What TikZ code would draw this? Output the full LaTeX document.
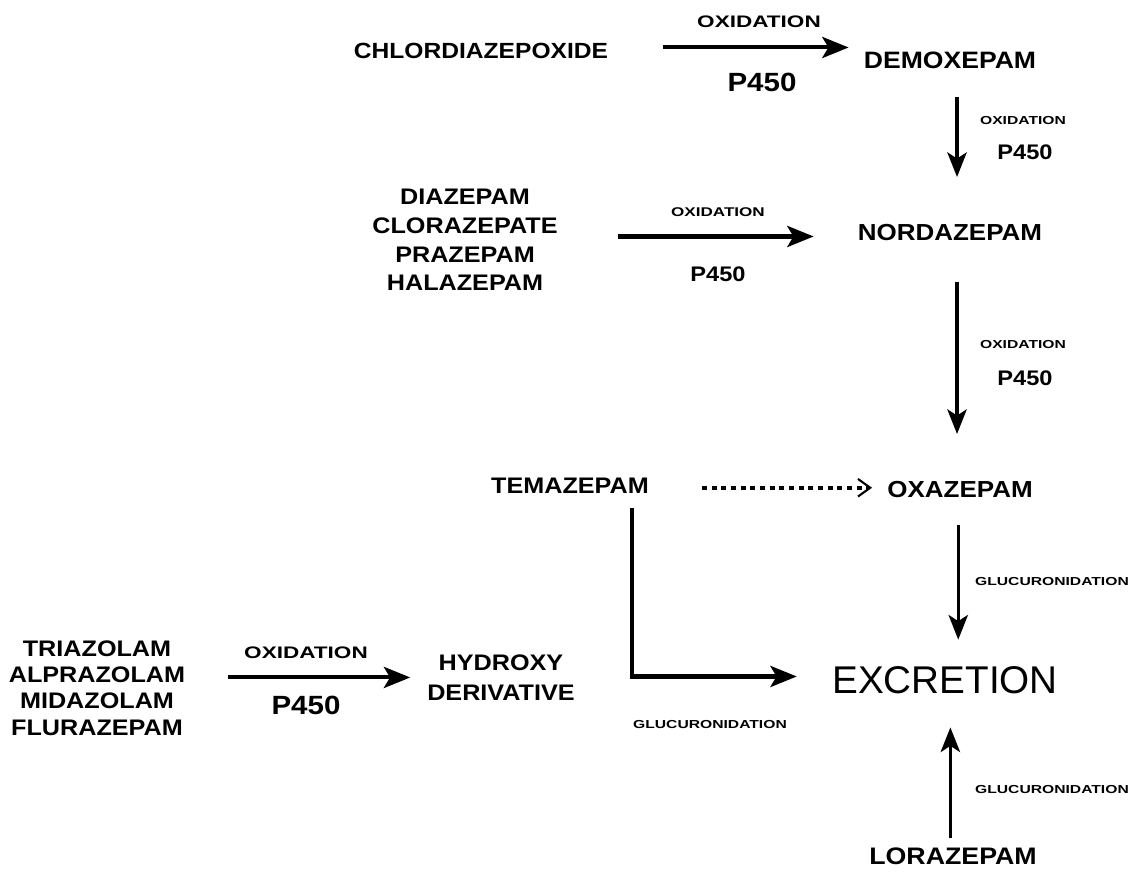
\documentclass[tikz,border=0pt]{standalone}
\usepackage{fontspec}
\setmainfont{Liberation Sans}
\newfontfamily\drugfont[FakeStretch=1.12]{Liberation Sans}
\newfontfamily\wideface[FakeStretch=1.35]{Liberation Sans}
\usetikzlibrary{arrows.meta}

\begin{document}
\begin{tikzpicture}[x=0.02cm, y=-0.02cm,
    drug/.style={inner sep=0pt, align=center, font=\drugfont\bfseries\fontsize{12.8}{15}\selectfont},
    bigtag/.style={inner sep=0pt, font=\wideface\bfseries\fontsize{9.5}{11}\selectfont},
    smalltag/.style={inner sep=0pt, font=\wideface\bfseries\fontsize{6.6}{8}\selectfont},
    bigp/.style={inner sep=0pt, font=\drugfont\bfseries\fontsize{15}{17}\selectfont},
    smallp/.style={inner sep=0pt, font=\drugfont\bfseries\fontsize{12}{14}\selectfont},
    rxn/.style={line width=2.3pt, -{Stealth[length=15pt, width=12pt, inset=3.5pt]}},
    down/.style={line width=1.9pt, -{Stealth[length=14pt, width=11pt, inset=3.5pt]}}]
    \useasboundingbox (0,0) rectangle (1130,874);

    % compounds
    \node[drug, font=\drugfont\bfseries\fontsize{12.5}{15}\selectfont] (chlordiazepoxide) at (481,51) {CHLORDIAZEPOXIDE};
    \node[drug, font=\drugfont\bfseries\fontsize{13.5}{15}\selectfont] (demoxepam) at (950,60) {DEMOXEPAM};
    \node[drug, font=\drugfont\bfseries\fontsize{13.2}{15}\selectfont] (nordazepam) at (950,233) {NORDAZEPAM};
    \node[drug, font=\drugfont\bfseries\fontsize{12.8}{16.4}\selectfont] (diazepams) at (465,240)
        {DIAZEPAM\\CLORAZEPATE\\PRAZEPAM\\HALAZEPAM};
    \node[drug] (temazepam) at (570,486) {TEMAZEPAM};
    \node[drug, font=\drugfont\bfseries\fontsize{13.2}{15}\selectfont] (oxazepam) at (960,490) {OXAZEPAM};
    \node[drug, font=\fontsize{22}{24}\selectfont] (excretion) at (945,680) {EXCRETION};
    \node[drug, font=\drugfont\bfseries\fontsize{13.6}{15}\selectfont] (lorazepam) at (953,856) {LORAZEPAM};
    \node[drug, font=\drugfont\bfseries\fontsize{12.8}{15}\selectfont] (triazolams) at (97,688)
        {TRIAZOLAM\\ALPRAZOLAM\\MIDAZOLAM\\FLURAZEPAM};
    \node[drug, font=\drugfont\bfseries\fontsize{12.8}{17}\selectfont] (hydroxy) at (501,678)
        {HYDROXY\\DERIVATIVE};

    % enzymes and reactions
    \node[bigtag] (ox1) at (759,22) {OXIDATION};
    \node[bigp] (p1) at (762,82) {P450};
    \node[smalltag] (ox2) at (1023,121) {OXIDATION};
    \node[smallp] (p2) at (1025,152) {P450};
    \node[smalltag, font=\wideface\bfseries\fontsize{7.2}{8}\selectfont] (ox3) at (718,212) {OXIDATION};
    \node[smallp] (p3) at (718,274) {P450};
    \node[smalltag] (ox4) at (1023,345) {OXIDATION};
    \node[smallp] (p4) at (1025,378) {P450};
    \node[smalltag] (gl1) at (1052,582) {GLUCURONIDATION};
    \node[smalltag] (gl2) at (710,725) {GLUCURONIDATION};
    \node[smalltag] (gl3) at (1052,790) {GLUCURONIDATION};
    \node[bigtag] (ox5) at (306,653) {OXIDATION};
    \node[bigp] (p5) at (306,705) {P450};

    % arrows
    \draw[rxn, shorten <=31pt, shorten >=8.5pt] ([yshift=2pt]chlordiazepoxide.east) -- ([yshift=2pt]chlordiazepoxide.east -| demoxepam.west);
    \draw[down, shorten <=16pt, shorten >=27pt] ([xshift=4pt]demoxepam.south) -- ([xshift=4pt]nordazepam.north);
    \draw[rxn, shorten <=34pt, shorten >=25pt] ([yshift=2pt]diazepams.east) -- ([yshift=2pt]diazepams.east -| nordazepam.west);
    \draw[down, shorten <=23pt, shorten >=27pt] ([xshift=4pt]nordazepam.south) -- ([xshift=4pt]nordazepam.south |- oxazepam.north);
    \draw[line width=2.4pt, dash pattern=on 3pt off 2.5pt, shorten <=30pt, shorten >=8.5pt,
        -{Straight Barb[length=7pt, width=10pt, line width=1.2pt]}] ([yshift=-1pt]temazepam.east) -- ([yshift=-1pt]temazepam.east -| oxazepam.west);
    \draw[down, shorten <=15pt, shorten >=15pt] ([xshift=-1pt]oxazepam.south) -- ([xshift=-1pt]oxazepam.south |- excretion.north);
    \draw[rxn, shorten <=8pt, shorten >=20pt] ([xshift=-10pt]temazepam.south east) |- ([yshift=2pt]excretion.west);
    \draw[down, shorten <=5pt, shorten >=19pt] ([xshift=-1.5pt]lorazepam.north) -- ([xshift=-1.5pt]lorazepam.north |- excretion.south);
    \draw[rxn, shorten <=24pt, shorten >=9.5pt] ([yshift=6pt]triazolams.east) -- ([yshift=6pt]triazolams.east -| hydroxy.west);
\end{tikzpicture}
\end{document}
